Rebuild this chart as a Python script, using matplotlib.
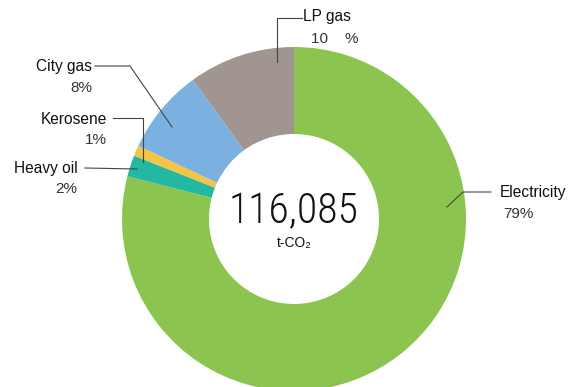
import matplotlib.pyplot as plt

W, H = 571, 387

labels = ["Electricity", "Heavy oil", "Kerosene", "City gas", "LP gas"]
shares = [79, 2, 1, 8, 10]
pct_text = ["79%", "2%", "1%", "8%", "10    %"]
colors = ["#8bc54f", "#22b8a2", "#f5c346", "#7ab1e0", "#a09591"]
total = "116,085"


def px(x, y):
    # pixel position (top-left origin) -> axes data coords
    return x, H - y


fig = plt.figure(figsize=(W / 100, H / 100), dpi=100)
ax = fig.add_axes([0, 0, 1, 1])

cx, cy = px(294, 219)
ax.pie(shares, colors=colors, startangle=90, counterclock=False,
       center=(cx, cy), radius=172, frame=True,
       wedgeprops=dict(width=87, linewidth=0))
ax.set_xlim(0, W)
ax.set_ylim(0, H)
ax.set_aspect("equal")
ax.axis("off")

# leader lines
lc = "#444444"
leaders = {
    "LP gas": [(277, 62), (277, 18), (302, 18)],
    "City gas": [(95, 66), (130, 66), (172, 127)],
    "Kerosene": [(113, 118), (143, 118), (143, 162)],
    "Heavy oil": [(85, 168), (137, 169)],
    "Electricity": [(447, 207), (463, 192), (491, 192)],
}
for name, pts in leaders.items():
    xs = [px(*p)[0] for p in pts]
    ys = [px(*p)[1] for p in pts]
    ax.plot(xs, ys, color=lc, lw=0.8)

font = ["Liberation Sans", "DejaVu Sans"]
# (name x, name y, pct x, pct y, align)
label_pos = {
    "Electricity": (500, 192, 503, 214, "left"),
    "Heavy oil": (78, 168, 77, 189, "right"),
    "Kerosene": (107, 119, 107, 140, "right"),
    "City gas": (92, 67, 92, 88, "right"),
    "LP gas": (303, 17, 311, 39, "left"),
}
for name, pct in zip(labels, pct_text):
    nx, ny, qx, qy, ha = label_pos[name]
    ax.text(*px(nx, ny), name, ha=ha, va="center", fontsize=11.2,
            family=font, color="#111111")
    ax.text(*px(qx, qy), pct, ha=ha, va="center", fontsize=11,
            family=font, color="#333333")

ax.text(*px(294, 212), total, ha="center", va="center", fontsize=30,
        fontweight="light",
        family=["Roboto Condensed", "Open Sans Condensed",
                "DejaVu Sans Condensed", "Liberation Sans Narrow",
                "DejaVu Sans"],
        color="#111111")
ax.text(*px(294, 243), "t-CO\u2082", ha="center", va="center", fontsize=10,
        fontweight="medium", family=font, color="#111111")

fig.savefig("out.png", dpi=100)
